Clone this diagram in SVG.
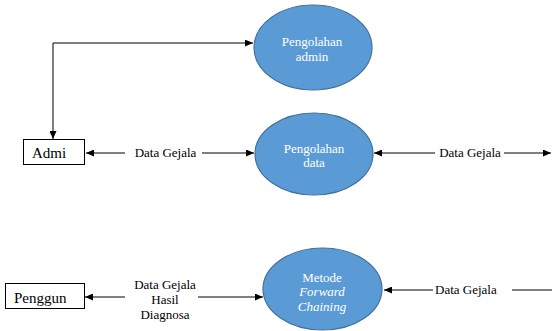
<svg xmlns="http://www.w3.org/2000/svg" width="552" height="331" viewBox="0 0 552 331">
  <style>
    text { font-family: 'Liberation Serif', 'DejaVu Serif', 'Noto Serif', serif; }
    .proc { fill: #5B9BD5; stroke: #41719C; stroke-width: 1.2; }
    .proc-text { font-size: 13px; fill: #FFFFFF; text-anchor: middle; }
    .ent { fill: #FFFFFF; stroke: #000000; stroke-width: 1; }
    .ent-text { font-size: 15px; fill: #000000; }
    .flow { fill: none; stroke: #000000; stroke-width: 1; }
    .lbl { font-size: 13px; fill: #000000; }
  </style>
  <defs>
    <marker id="arrow" viewBox="0 0 8 7" refX="8" refY="3.5" markerWidth="8" markerHeight="7" markerUnits="userSpaceOnUse" orient="auto-start-reverse">
      <path d="M0,0 L8,3.5 L0,7 z" fill="#000000"/>
    </marker>
  </defs>
  <rect width="552" height="331" fill="#FFFFFF"/>

  <!-- data flows -->
  <g id="connectors" font-family="Liberation Serif, DejaVu Serif, serif">
    <path class="flow" d="M53,139 L53,43 L253,43" marker-start="url(#arrow)" marker-end="url(#arrow)"/>
    <line class="flow" x1="86" y1="153" x2="125" y2="153" marker-start="url(#arrow)"/>
    <line class="flow" x1="202" y1="153" x2="254" y2="153" marker-end="url(#arrow)"/>
    <text class="lbl" x="165.5" y="157" text-anchor="middle">Data Gejala</text>

    <line class="flow" x1="374" y1="153" x2="435" y2="153" marker-start="url(#arrow)"/>
    <line class="flow" x1="504" y1="153" x2="551" y2="153" marker-end="url(#arrow)"/>
    <text class="lbl" x="470" y="157" text-anchor="middle">Data Gejala</text>

    <line class="flow" x1="85" y1="297" x2="125" y2="297" marker-start="url(#arrow)"/>
    <line class="flow" x1="198" y1="297" x2="263" y2="297" marker-end="url(#arrow)"/>
    <text class="lbl" x="165" y="289" text-anchor="middle">Data Gejala</text>
    <text class="lbl" x="165" y="304" text-anchor="middle">Hasil</text>
    <text class="lbl" x="165" y="318.5" text-anchor="middle">Diagnosa</text>

    <line class="flow" x1="384" y1="290" x2="433" y2="290" marker-start="url(#arrow)"/>
    <line class="flow" x1="512" y1="290" x2="552" y2="290"/>
    <text class="lbl" x="435" y="294">Data Gejala</text>
  </g>

  <!-- processes -->
  <g id="pengolahan-admin">
    <ellipse class="proc" cx="313" cy="47.5" rx="59" ry="42.5"/>
    <text class="proc-text" x="312" y="46">Pengolahan</text>
    <text class="proc-text" x="312" y="61">admin</text>
  </g>
  <g id="pengolahan-data">
    <ellipse class="proc" cx="314" cy="154" rx="59" ry="41"/>
    <text class="proc-text" x="314" y="153">Pengolahan</text>
    <text class="proc-text" x="314" y="167">data</text>
  </g>
  <g id="metode-forward-chaining">
    <ellipse class="proc" cx="322.5" cy="289" rx="59.5" ry="41"/>
    <text class="proc-text" x="322" y="282">Metode</text>
    <text class="proc-text" x="322" y="296" font-style="italic">Forward</text>
    <text class="proc-text" x="322" y="311" font-style="italic">Chaining</text>
  </g>

  <!-- external entities -->
  <g id="admi">
    <rect class="ent" x="23.5" y="139.5" width="61" height="25"/>
    <text class="ent-text" x="32" y="158">Admi</text>
  </g>
  <g id="penggun">
    <rect class="ent" x="5.5" y="283.5" width="79" height="25"/>
    <text class="ent-text" x="14" y="303">Penggun</text>
  </g>
</svg>
